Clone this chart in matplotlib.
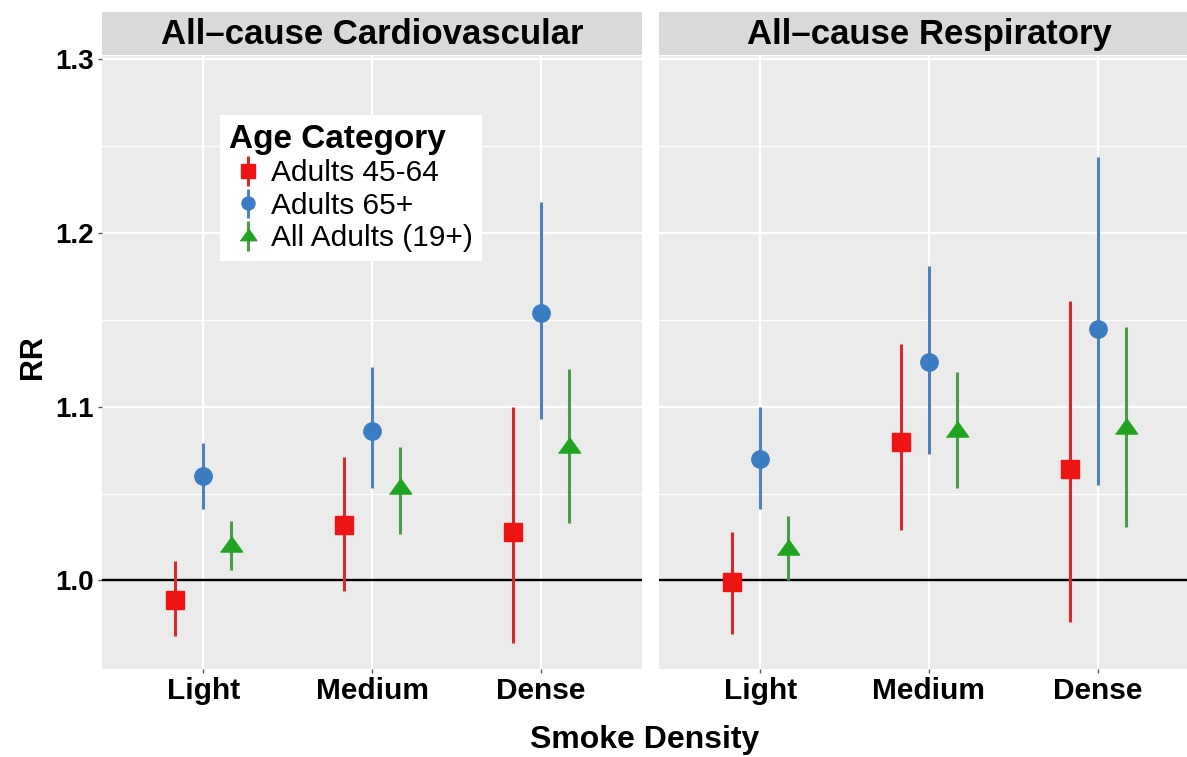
import matplotlib.pyplot as plt
import numpy as np

plt.rcParams['font.family'] = ['Liberation Sans', 'DejaVu Sans']

categories = ['Light', 'Medium', 'Dense']
age_groups = ['Adults 45-64', 'Adults 65+', 'All Adults (19+)']
panel_titles = ['All–cause Cardiovascular', 'All–cause Respiratory']

# relative risk with lower / upper CI, one row per age group
cardio_rr = [[0.989, 1.032, 1.028], [1.060, 1.086, 1.154], [1.020, 1.053, 1.077]]
cardio_lo = [[0.968, 0.994, 0.964], [1.041, 1.053, 1.093], [1.006, 1.027, 1.033]]
cardio_hi = [[1.011, 1.071, 1.100], [1.079, 1.123, 1.218], [1.034, 1.077, 1.122]]

resp_rr = [[0.999, 1.080, 1.064], [1.070, 1.126, 1.145], [1.018, 1.086, 1.088]]
resp_lo = [[0.969, 1.029, 0.976], [1.041, 1.073, 1.055], [1.000, 1.053, 1.031]]
resp_hi = [[1.028, 1.136, 1.161], [1.100, 1.181, 1.244], [1.037, 1.120, 1.146]]

marker_colors = ['#ee1414', '#3b7dc2', '#20a320']
line_colors = ['#d8282c', '#4f82b8', '#4a9c48']
tri = [(-1, -0.5), (1, -0.5), (0, 0.9)]
markers = ['s', 'o', tri]
msizes = [12.5, 12.5, 16]
dodge = [-0.165, 0.0, 0.165]

W, H = 1187, 757
fig = plt.figure(figsize=(W / 100, H / 100), dpi=100)


def box(l, t, r, b):
    return [l / W, 1 - b / H, (r - l) / W, (b - t) / H]


ax1 = fig.add_axes(box(102, 56, 642, 669))
ax2 = fig.add_axes(box(659, 56, 1199, 669))

handles = []
for ax, title, rr, lo, hi in [(ax1, panel_titles[0], cardio_rr, cardio_lo, cardio_hi),
                              (ax2, panel_titles[1], resp_rr, resp_lo, resp_hi)]:
    ax.set_facecolor('#ebebeb')
    for s in ax.spines.values():
        s.set_visible(False)
    ax.set_xlim(0.4, 3.6)
    ax.set_ylim(0.949, 1.302)
    ax.set_yticks([1.0, 1.1, 1.2, 1.3])
    ax.set_yticks([1.05, 1.15, 1.25], minor=True)
    ax.set_yticklabels(['1.0', '1.1', '1.2', '1.3'])
    ax.set_xticks([1, 2, 3])
    ax.set_xticklabels(categories)
    ax.grid(which='major', color='white', linewidth=1.6, zorder=0)
    ax.grid(which='minor', axis='y', color='white', linewidth=0.9, zorder=0)
    ax.set_axisbelow(True)
    ax.tick_params(axis='both', which='major', length=3, width=1, color='#555555',
                   labelsize=20, pad=3)
    ax.tick_params(axis='x', labelsize=21.5)
    ax.tick_params(axis='y', which='minor', length=0)
    for lbl in ax.get_xticklabels() + ax.get_yticklabels():
        lbl.set_fontweight('bold')
    ax.axhline(1.0, color='black', linewidth=1.7, zorder=2)

    x = np.arange(1, len(categories) + 1)
    for i in range(len(age_groups)):
        y = np.array(rr[i])
        err = [y - np.array(lo[i]), np.array(hi[i]) - y]
        eb = ax.errorbar(x + dodge[i], y, yerr=err, marker=markers[i], linestyle='none',
                         markersize=msizes[i], color=marker_colors[i],
                         ecolor=line_colors[i], elinewidth=2.2, capsize=0, zorder=3)
        if ax is ax1:
            handles.append(eb)

    strip = ax.inset_axes([0, 1.0016, 1, 43 / 613])
    strip.set_facecolor('#d9d9d9')
    strip.set_xticks([])
    strip.set_yticks([])
    for s in strip.spines.values():
        s.set_visible(False)
    strip.text(0.5, 0.47, title, ha='center', va='center', fontsize=25,
               fontweight='bold', transform=strip.transAxes)

ax2.tick_params(axis='y', which='both', length=0, labelleft=False)

leg = ax1.legend(handles=handles, labels=age_groups, title='Age Category',
                 loc='upper left', bbox_to_anchor=(118 / 540, 1 - 59 / 613),
                 fontsize=21.5, title_fontsize=24, markerscale=0.75,
                 handlelength=1.25, handletextpad=0.15, labelspacing=0.15,
                 borderpad=0.3, borderaxespad=0, frameon=True, fancybox=False,
                 framealpha=1, facecolor='white', edgecolor='none',
                 alignment='left')
leg.get_title().set_fontweight('bold')
leg.set_zorder(10)

fig.text(33 / W, 1 - 357 / H, 'RR', rotation=90, ha='center', va='center',
         fontsize=22, fontweight='bold')
fig.text(645 / W, 1 - 740 / H, 'Smoke Density', ha='center', va='center',
         fontsize=23, fontweight='bold')

fig.savefig('out.png', dpi=100)
